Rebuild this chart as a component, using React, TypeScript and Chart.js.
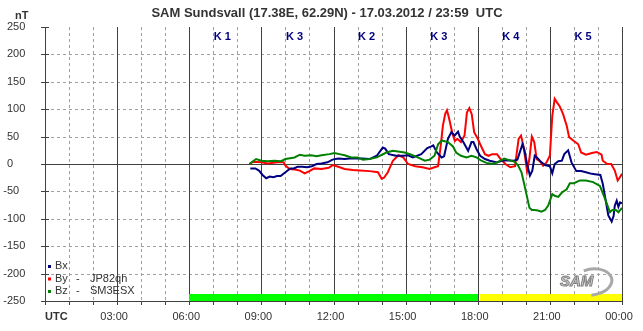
import React, { useEffect, useRef } from "react";
import { Chart, registerables } from "chart.js";

Chart.register(...registerables);

const TITLE = "SAM Sundsvall (17.38E, 62.29N) - 17.03.2012 / 23:59  UTC";
const Y_UNIT = "nT";
const Y_TICKS = [250, 200, 150, 100, 50, 0, -50, -100, -150, -200, -250];
const X_TICK_HOURS = [0, 3, 6, 9, 12, 15, 18, 21, 24];
const X_TICK_LABELS = ["UTC", "03:00", "06:00", "09:00", "12:00", "15:00", "18:00", "21:00", "00:00"];
const K_SLOT_START = [0, 3, 6, 9, 12, 15, 18, 21];
const K_VALUES = [null, null, 1, 3, 2, 3, 4, 5];
const ACTIVITY_START = [6, 18];
const ACTIVITY_END = [18, 24];
const ACTIVITY_COLORS = ["#00ff00", "#ffff00"];
const ACTIVITY_BOTTOM = -250;
const ACTIVITY_TOP = -237;

const LEGEND_NAMES = ["Bx", "By", "Bz"];
const LEGEND_SOURCES = ["", "JP82qh", "SM3ESX"];
const SERIES_COLORS = ["#000080", "#ff0000", "#008000"];

const BX_HOURS = [8.54, 8.75, 8.9, 9.05, 9.2, 9.35, 9.5, 9.65, 9.8, 10.0, 10.2, 10.35, 10.5, 10.7, 10.9, 11.1, 11.3, 11.5, 11.75, 11.96, 12.2, 12.46, 12.67, 13.2, 13.5, 13.8, 14.05, 14.15, 14.3, 14.6, 14.9, 15.1, 15.3, 15.65, 15.9, 16.07, 16.15, 16.3, 16.5, 16.6, 16.76, 16.9, 17.04, 17.18, 17.25, 17.4, 17.6, 17.74, 17.82, 17.95, 18.1, 18.3, 18.5, 18.8, 19.0, 19.2, 19.5, 19.65, 19.86, 19.95, 20.05, 20.17, 20.27, 20.37, 20.5, 20.65, 20.8, 21.0, 21.1, 21.2, 21.35, 21.5, 21.6, 21.76, 21.9, 22.1, 22.3, 22.5, 22.74, 22.95, 23.1, 23.2, 23.3, 23.43, 23.57, 23.65, 23.7, 23.78, 23.85, 23.92, 24.0];
const BX_VALUES = [-8, -8, -12, -20, -26, -23, -24, -22, -22, -15, -8, -8, -5, -5, -6, -4, 0, 1, 3, 8, 10, 9, 10, 10, 9, 15, 30, 28, 18, 15, 15, 16, 12, 18, 29, 32, 34, 21, 12, 14, 46, 58, 52, 59, 50, 40, 24, 40, 40, 27, 15, 9, 6, 3, 6, 7, 6, 8, 36, 24, 0, -21, -12, 15, 10, 3, -2, -4, -17, 0, 5, 6, 18, 25, 3, -13, -13, -15, -18, -19, -20, -36, -61, -94, -105, -95, -76, -67, -78, -70, -72];

const BY_HOURS = [8.5, 8.65, 9.0, 9.26, 9.68, 9.93, 10.0, 10.17, 10.4, 10.6, 10.8, 11.0, 11.2, 11.5, 11.8, 11.97, 12.2, 12.46, 12.8, 13.1, 13.5, 13.85, 14.0, 14.1, 14.26, 14.47, 14.7, 14.9, 15.1, 15.4, 15.7, 16.0, 16.2, 16.35, 16.45, 16.55, 16.65, 16.72, 16.8, 16.95, 17.05, 17.15, 17.3, 17.45, 17.55, 17.65, 17.75, 17.85, 18.0, 18.1, 18.3, 18.45, 18.6, 18.8, 18.95, 19.15, 19.35, 19.55, 19.7, 19.8, 19.9, 19.98, 20.05, 20.15, 20.25, 20.35, 20.45, 20.58, 20.72, 20.86, 21.0, 21.1, 21.2, 21.3, 21.4, 21.55, 21.7, 21.8, 21.97, 22.18, 22.3, 22.5, 22.75, 22.95, 23.15, 23.2, 23.39, 23.55, 23.7, 23.82, 23.9, 24.0];
const BY_VALUES = [0, 4, 3, 1, 3, 3, -3, -9, -10, -12, -17, -13, -8, -9, -7, -2, -5, -9, -11, -12, -13, -15, -27, -25, -15, 6, 16, 12, 0, -4, -6, -9, -6, -4, 30, 70, 92, 98, 85, 55, 42, 46, 40, 52, 94, 102, 91, 58, 46, 36, 18, 15, 18, 18, 9, 0, -6, -4, 46, 52, 33, 9, -13, 10, 50, 40, 9, 5, -3, 3, 15, 88, 119, 112, 106, 91, 70, 49, 43, 36, 21, 17, 20, 22, 17, 6, 0, 0, -12, -30, -25, -18];

const BZ_HOURS = [8.5, 8.78, 9.0, 9.26, 9.54, 9.82, 10.0, 10.38, 10.6, 10.8, 11.07, 11.3, 11.5, 11.83, 12.04, 12.25, 12.46, 12.74, 13.0, 13.22, 13.5, 13.8, 14.2, 14.47, 14.96, 15.24, 15.5, 15.8, 16.0, 16.2, 16.35, 16.5, 16.76, 16.97, 17.1, 17.3, 17.53, 17.74, 17.95, 18.15, 18.36, 18.64, 18.85, 19.1, 19.3, 19.54, 19.68, 19.82, 19.95, 20.05, 20.15, 20.25, 20.37, 20.5, 20.65, 20.8, 20.93, 21.1, 21.2, 21.35, 21.5, 21.7, 21.83, 22.0, 22.25, 22.5, 22.8, 23.08, 23.3, 23.5, 23.6, 23.75, 23.85, 24.0];
const BZ_VALUES = [0, 9, 6, 5, 6, 5, 9, 12, 17, 15, 16, 14, 16, 18, 20, 18, 16, 12, 12, 8, 9, 12, 21, 24, 21, 17, 12, 6, 8, 15, 36, 43, 40, 32, 21, 15, 12, 15, 12, 6, 2, 0, 4, 10, 7, 4, -3, -15, -40, -60, -80, -84, -84, -85, -87, -84, -76, -55, -58, -60, -52, -46, -35, -35, -30, -30, -33, -40, -64, -88, -84, -84, -88, -80];

const FONT = "'Liberation Sans', Arial, sans-serif";

const toPoints = (hours: number[], values: number[]) => hours.map((h, i) => ({ x: h, y: values[i] }));

const decorPlugin = {
  id: "samDecor",
  beforeDatasetsDraw(chart: any) {
    const { ctx, chartArea: a, scales } = chart;
    const xs = scales.x;
    const ys = scales.y;
    ctx.save();
    // dashed grid
    ctx.lineWidth = 1;
    ctx.strokeStyle = "#a0a0a0";
    ctx.setLineDash([3, 3]);
    for (let h = 1; h < 24; h++) {
      if (h % 3 === 0) continue;
      const x = Math.round(xs.getPixelForValue(h)) + 0.5;
      ctx.beginPath();
      ctx.moveTo(x, a.top);
      ctx.lineTo(x, a.bottom);
      ctx.stroke();
    }
    for (const v of Y_TICKS) {
      if (v === 0 || v === 250 || v === -250) continue;
      const y = Math.round(ys.getPixelForValue(v)) + 0.5;
      ctx.beginPath();
      ctx.moveTo(a.left, y);
      ctx.lineTo(a.right, y);
      ctx.stroke();
    }
    ctx.setLineDash([]);
    ctx.strokeStyle = "#404040";
    for (const h of X_TICK_HOURS) {
      const x = Math.round(xs.getPixelForValue(h)) + 0.5;
      ctx.beginPath();
      ctx.moveTo(x, a.top);
      ctx.lineTo(x, a.bottom);
      ctx.stroke();
    }
    // zero line and bottom axis
    for (const v of [0, -250]) {
      const y = Math.round(ys.getPixelForValue(v)) + 0.5;
      ctx.beginPath();
      ctx.moveTo(a.left, y);
      ctx.lineTo(a.right, y);
      ctx.stroke();
    }
    // y tick marks
    for (const v of Y_TICKS) {
      const y = Math.round(ys.getPixelForValue(v)) + 0.5;
      ctx.beginPath();
      ctx.moveTo(a.left - 4, y);
      ctx.lineTo(a.left + 4, y);
      ctx.stroke();
    }
    // x tick marks
    for (let h = 0; h <= 24; h++) {
      const x = Math.round(xs.getPixelForValue(h)) + 0.5;
      ctx.beginPath();
      ctx.moveTo(x, a.bottom);
      ctx.lineTo(x, a.bottom + 4);
      ctx.stroke();
    }
    // activity bar
    for (let i = 0; i < ACTIVITY_START.length; i++) {
      const x0 = xs.getPixelForValue(ACTIVITY_START[i]) + (i > 0 ? 2 : 0);
      const x1 = xs.getPixelForValue(ACTIVITY_END[i]);
      const y0 = ys.getPixelForValue(ACTIVITY_TOP);
      const y1 = ys.getPixelForValue(ACTIVITY_BOTTOM);
      ctx.fillStyle = ACTIVITY_COLORS[i];
      ctx.fillRect(Math.round(x0), Math.round(y0), Math.round(x1 - x0), Math.round(y1 - y0));
    }
    ctx.restore();
  },
  afterDatasetsDraw(chart: any) {
    const { ctx, chartArea: a, scales } = chart;
    const xs = scales.x;
    const ys = scales.y;
    ctx.save();
    // title
    ctx.fillStyle = "#333333";
    ctx.font = `bold 13px ${FONT}`;
    ctx.textAlign = "center";
    ctx.textBaseline = "middle";
    ctx.fillText(TITLE, 327, 13);
    ctx.font = `bold 11px ${FONT}`;
    ctx.textAlign = "left";
    ctx.fillText(Y_UNIT, 15, 16);
    // y labels
    ctx.font = `11px ${FONT}`;
    const minusW = ctx.measureText("-").width;
    for (const v of Y_TICKS) {
      const y = ys.getPixelForValue(v);
      ctx.fillText(String(Math.abs(v)), 7, y);
      if (v < 0) ctx.fillText("-", 7 - minusW, y);
    }
    // x labels
    X_TICK_HOURS.forEach((h, i) => {
      const x = xs.getPixelForValue(h);
      if (X_TICK_LABELS[i] === "UTC") {
        ctx.font = `bold 11px ${FONT}`;
        ctx.textAlign = "left";
        ctx.fillText(X_TICK_LABELS[i], x, 317);
      } else {
        ctx.font = `11px ${FONT}`;
        ctx.textAlign = "center";
        ctx.fillText(X_TICK_LABELS[i], x - 3, 317);
      }
    });
    // K indices
    ctx.font = `bold 11px ${FONT}`;
    ctx.fillStyle = "#000080";
    ctx.textAlign = "center";
    K_SLOT_START.forEach((s, i) => {
      const k = K_VALUES[i];
      if (k === null) return;
      const x = (xs.getPixelForValue(s) + xs.getPixelForValue(s + 3)) / 2 - 3;
      ctx.fillText("K " + k, x, 37);
    });
    // legend
    ctx.font = `11px ${FONT}`;
    ctx.textAlign = "left";
    const legendY = [266, 278.5, 291];
    LEGEND_NAMES.forEach((n, i) => {
      const y = legendY[i];
      ctx.fillStyle = SERIES_COLORS[i];
      ctx.fillRect(48, y - 1, 3, 3);
      ctx.fillStyle = "#333333";
      ctx.fillText(n, 55, y);
      if (LEGEND_SOURCES[i]) {
        ctx.fillText("-", 76, y);
        ctx.fillText(LEGEND_SOURCES[i], 90, y);
      }
    });
    // SAM logo
    ctx.strokeStyle = "#a8a8a8";
    ctx.lineWidth = 3;
    ctx.beginPath();
    ctx.ellipse(592, 282, 20, 13, -0.15, -1.9, 1.7);
    ctx.stroke();
    ctx.font = `italic bold 15px ${FONT}`;
    ctx.fillStyle = "#d0d0d0";
    ctx.strokeStyle = "#808080";
    ctx.lineWidth = 1;
    ctx.textAlign = "left";
    ctx.fillText("SAM", 560, 282);
    ctx.strokeText("SAM", 560, 282);
    ctx.restore();
  },
};

export default function App() {
  const ref = useRef<HTMLCanvasElement>(null);
  useEffect(() => {
    if (!ref.current) return;
    const mk = (label: string, hours: number[], values: number[], color: string) => ({
      label,
      data: toPoints(hours, values),
      borderColor: color,
      backgroundColor: color,
      borderWidth: 2,
      pointRadius: 0,
      tension: 0,
      fill: false,
    });
    const chart = new Chart(ref.current, {
      type: "line",
      data: {
        datasets: [
          mk("Bz", BZ_HOURS, BZ_VALUES, SERIES_COLORS[2]),
          mk("Bx", BX_HOURS, BX_VALUES, SERIES_COLORS[0]),
          mk("By", BY_HOURS, BY_VALUES, SERIES_COLORS[1]),
        ],
      },
      options: {
        responsive: false,
        animation: false,
        layout: { padding: { left: 45, top: 27, right: 21, bottom: 30 } },
        plugins: { legend: { display: false }, tooltip: { enabled: false } },
        scales: {
          x: { type: "linear", min: 0, max: 24, display: false },
          y: { type: "linear", min: -250, max: 250, display: false },
        },
      },
      plugins: [decorPlugin],
    });
    return () => chart.destroy();
  }, []);
  return (
    <div style={{ position: "fixed", left: 0, top: 0, width: 643, height: 331, background: "#fff" }}>
      <canvas ref={ref} width={643} height={331} style={{ display: "block" }} />
    </div>
  );
}
